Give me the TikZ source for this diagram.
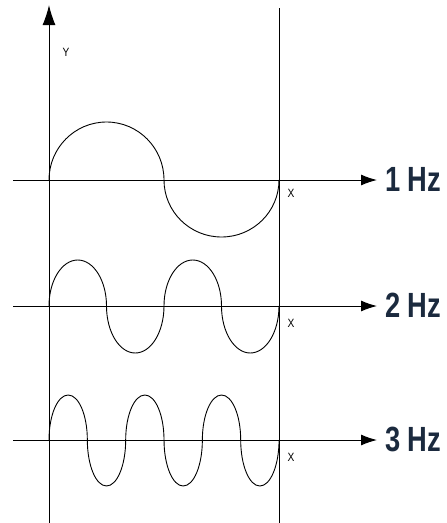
\documentclass[tikz,border=0pt]{standalone}
\usepackage{fontspec}
\setmainfont{Liberation Sans}
\usetikzlibrary{arrows.meta}
\definecolor{navy}{HTML}{1B2A3E}
\tikzset{
  ln/.style={line width=1pt, black},
  axisarrow/.style={line width=1pt, -{Latex[length=16pt,width=11pt]}},
  wave/.style={line width=0.9pt, black},
  hz/.style={font=\fontsize{35}{35}\selectfont\bfseries, text=navy, inner sep=0pt, anchor=west},
  small/.style={font=\fontsize{12}{12}\selectfont, inner sep=0pt}
}
\begin{document}
\begin{tikzpicture}[x=1pt,y=1pt]
\useasboundingbox (0,0) rectangle (447,-523);
% vertical lines
\coordinate (vb) at (49,-523);
\coordinate (vt) at (49,-5);
\draw[line width=1pt, -{Latex[length=20pt,width=13pt]}] (vb) -- (vt);
\coordinate (rb) at (279,-523);
\coordinate (rt) at (279,-8);
\draw[ln] (rb) -- (rt);
\node[small] (ylab) at (66,-52) {\scalebox{0.85}[1]{Y}};
% labels
\node[hz] (h1) at (385,-179) {\scalebox{0.78}[1]{1 Hz}};
\node[hz] (h2) at (385,-305) {\scalebox{0.78}[1]{2 Hz}};
\node[hz] (h3) at (385,-439) {\scalebox{0.78}[1]{3 Hz}};
\coordinate (s1) at (13,-180);
\coordinate (s2) at (13,-306);
\coordinate (s3) at (13,-440);
\coordinate (t1) at (377,-180);
\coordinate (t2) at (377,-306);
\coordinate (t3) at (377,-440);
\draw[axisarrow] (s1) -- (t1);
\draw[axisarrow] (s2) -- (t2);
\draw[axisarrow] (s3) -- (t3);
\node[small] (x1) at (291,-193) {\scalebox{0.85}[1]{X}};
\node[small] (x2) at (291,-323) {\scalebox{0.85}[1]{X}};
\node[small] (x3) at (291,-457) {\scalebox{0.85}[1]{X}};
% 1 Hz wave
\draw[wave] (49,-180) arc[start angle=180,end angle=0,x radius=57.5,y radius=58]
  arc[start angle=180,end angle=360,x radius=57.5,y radius=57];
% 2 Hz wave
\draw[wave] (49,-306) \foreach \i in {1,2} {
  arc[start angle=180,end angle=0,x radius=28.75,y radius=46]
  arc[start angle=180,end angle=360,x radius=28.75,y radius=47]};
% 3 Hz wave
\draw[wave] (49,-440) \foreach \i in {1,2,3} {
  arc[start angle=180,end angle=0,x radius=19.17,y radius=45]
  arc[start angle=180,end angle=360,x radius=19.17,y radius=46]};
\end{tikzpicture}
\end{document}
